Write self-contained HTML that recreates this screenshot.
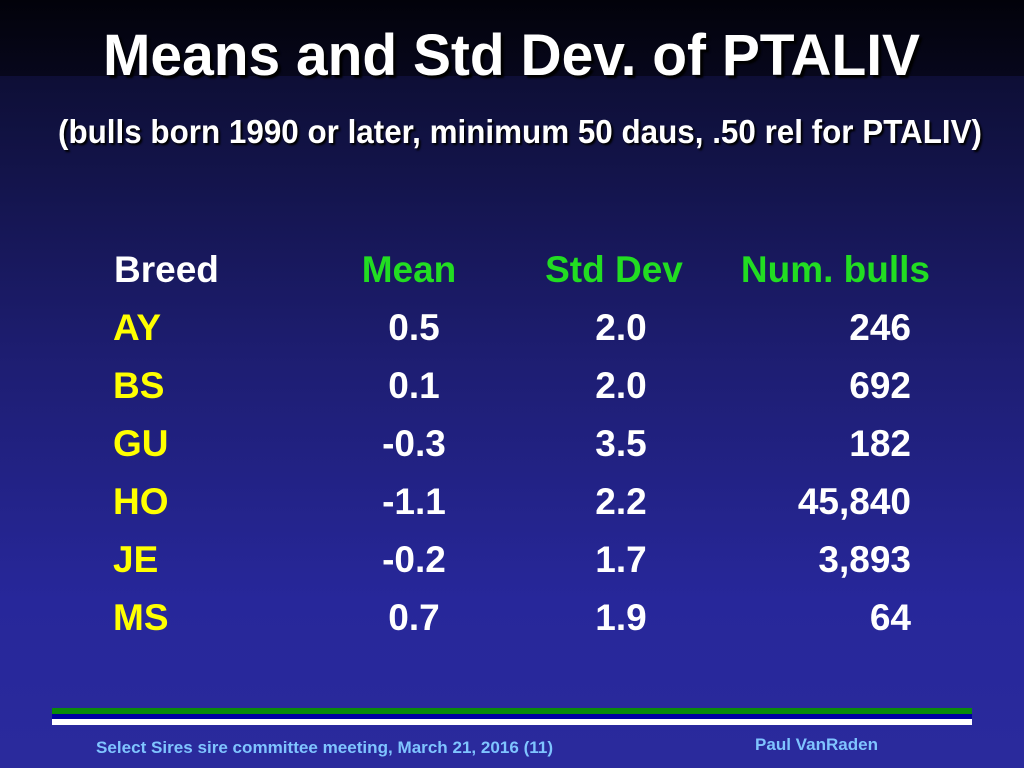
<!DOCTYPE html>
<html><head><meta charset="utf-8"><style>
body{margin:0;width:1024px;height:768px;overflow:hidden;font-family:"Liberation Sans",Arial,sans-serif;font-weight:bold;}
#bg{position:absolute;left:0;top:0;width:1024px;height:768px;background:linear-gradient(#0a0a26 0px,#10113f 120px,#1d1d70 350px,#27279a 600px,#2a2a9c 768px);}
#band{position:absolute;left:0;top:0;width:1024px;height:76px;background:linear-gradient(#02020a,#07071c);}
.t{position:absolute;white-space:nowrap;transform-origin:0 0;}
#title{left:103px;top:22px;font-size:58px;color:#fff;text-shadow:3px 3px 2px #000;}
#sub{left:58px;top:113px;font-size:33px;color:#fff;text-shadow:2px 2px 2px #000;}
.c{position:absolute;font-size:37px;line-height:40px;white-space:nowrap;}
.y{color:#ffff00}.g{color:#22dd22}.w{color:#fff}
.foot{position:absolute;font-size:17px;color:#7fc4ff;font-weight:bold;white-space:nowrap;transform-origin:0 0;}
</style></head><body>
<div id="bg"></div>
<div id="band"></div>
<div class="t fit" data-w="817" id="title">Means and Std Dev. of PTALIV</div>
<div class="t fit" data-w="924" id="sub">(bulls born 1990 or later, minimum 50 daus, .50 rel for PTALIV)</div>
<div id="tbl"></div>
<div style="position:absolute;left:52px;top:708px;width:920px;height:6px;background:#0a8a0a"></div>
<div style="position:absolute;left:52px;top:714px;width:920px;height:5px;background:#0000a0"></div>
<div style="position:absolute;left:52px;top:719px;width:920px;height:6px;background:#fff"></div>
<div class="foot fit" data-w="457" style="left:96px;top:738px">Select Sires sire committee meeting, March 21, 2016 (11)</div>
<div class="foot fit" data-w="123" style="left:755px;top:735px">Paul VanRaden</div>
<script>
const breeds=["AY","BS","GU","HO","JE","MS"];
const means=["0.5","0.1","-0.3","-1.1","-0.2","0.7"];
const sds=["2.0","2.0","3.5","2.2","1.7","1.9"];
const nums=["246","692","182","45,840","3,893","64"];
const tbl=document.getElementById('tbl');
function cell(txt,cls,x,y,align,name){
  const d=document.createElement('div');
  d.className='c '+cls;d.textContent=txt;
  d.style.top=(y-20)+'px';
  if(align==='left'){d.style.left=x+'px';}
  else if(align==='right'){d.style.left=(x-300)+'px';d.style.width='300px';d.style.textAlign='right';}
  else{d.style.left=(x-150)+'px';d.style.width='300px';d.style.textAlign='center';}
  
  
  tbl.appendChild(d);
}
cell('Breed','w',114,270,'left','header-breed');
cell('Mean','g',409,270,'center','header-mean');
cell('Std Dev','g',614,270,'center','header-std-dev');
cell('Num. bulls','g',930,270,'right','header-num-bulls');
for(let i=0;i<breeds.length;i++){
  const y=328+58*i;
  cell(breeds[i],'y',113,y,'left','breed-'+breeds[i].toLowerCase());
  cell(means[i],'w',414,y,'center','mean-'+breeds[i].toLowerCase());
  cell(sds[i],'w',621,y,'center','std-dev-'+breeds[i].toLowerCase());
  cell(nums[i],'w',911,y,'right','num-bulls-'+breeds[i].toLowerCase());
}
document.querySelectorAll('.fit').forEach(function(el){
  const w=el.getBoundingClientRect().width;
  const tw=parseFloat(el.getAttribute('data-w'));
  if(w>0)el.style.transform='scaleX('+(tw/w)+')';
});
</script>
</body></html>
